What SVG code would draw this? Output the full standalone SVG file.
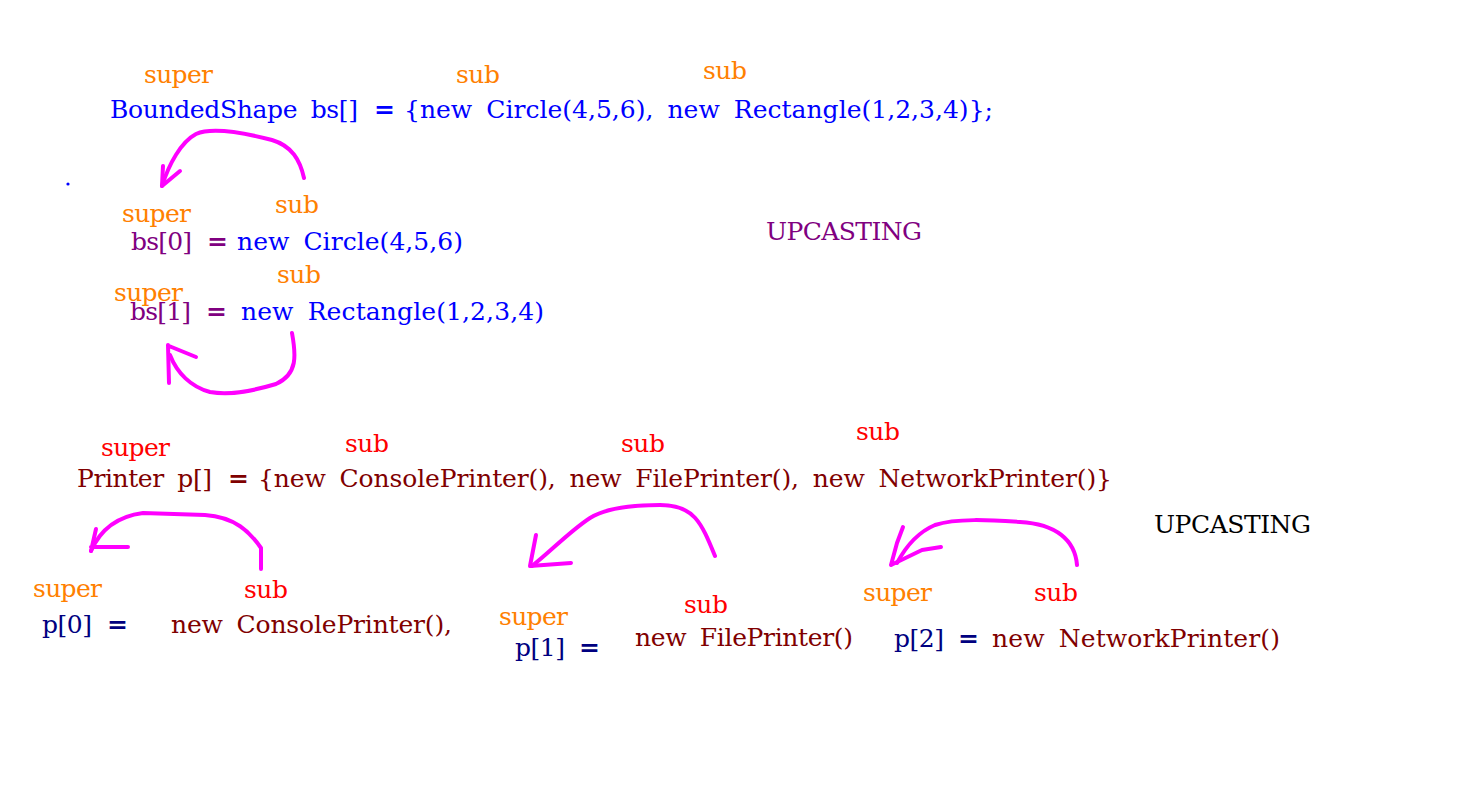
<svg xmlns="http://www.w3.org/2000/svg" width="1481" height="795" viewBox="0 0 1481 795">
<style>
text{font-family:"DejaVu Serif","Liberation Serif",serif;font-size:25px;word-spacing:6px}
.or{fill:#ff8000}
.rd{fill:#ff0000}
.bl{fill:#0000ff}
.pu{fill:#800080}
.dr{fill:#800000}
.nv{fill:#000080}
.bk{fill:#000000}
.eq{font-weight:bold}
.arr{fill:none;stroke:#ff00ff;stroke-width:4;stroke-linecap:round;stroke-linejoin:round}
</style>
<rect width="1481" height="795" fill="#ffffff"/>
<g id="shape-decl">
<text class="or" x="144" y="83" textLength="69">super</text>
<text class="or" x="456" y="83" textLength="44">sub</text>
<text class="or" x="703" y="79" textLength="44">sub</text>
<text class="bl" x="110" y="118" textLength="248">BoundedShape bs[]</text>
<text class="bl eq" x="374" y="118" textLength="14">=</text>
<text class="bl" x="404" y="118" textLength="589">{new Circle(4,5,6), new Rectangle(1,2,3,4)};</text>
<circle cx="68" cy="184" r="1.6" fill="#0000ff"/>
</g>
<g id="bs0">
<text class="or" x="122" y="222" textLength="69">super</text>
<text class="or" x="275" y="213" textLength="44">sub</text>
<text class="pu" x="131" y="250" textLength="61">bs[0]</text>
<text class="pu eq" x="207" y="250" textLength="14">=</text>
<text class="bl" x="237" y="250" textLength="226">new Circle(4,5,6)</text>
</g>
<g id="bs1">
<text class="or" x="277" y="283" textLength="44">sub</text>
<text class="or" x="114" y="301" textLength="69">super</text>
<text class="pu" x="130" y="320" textLength="61">bs[1]</text>
<text class="pu eq" x="206" y="320" textLength="14">=</text>
<text class="bl" x="241" y="320" textLength="303">new Rectangle(1,2,3,4)</text>
</g>
<g id="upcasting1">
<text class="pu" x="766" y="240" textLength="156">UPCASTING</text>
</g>
<g id="printer-decl">
<text class="rd" x="101" y="456" textLength="69">super</text>
<text class="rd" x="345" y="452" textLength="44">sub</text>
<text class="rd" x="621" y="452" textLength="44">sub</text>
<text class="rd" x="856" y="440" textLength="44">sub</text>
<text class="dr" x="77" y="487" textLength="135">Printer p[]</text>
<text class="dr eq" x="228" y="487" textLength="14">=</text>
<text class="dr" x="258" y="487" textLength="854">{new ConsolePrinter(), new FilePrinter(), new NetworkPrinter()}</text>
</g>
<g id="upcasting2">
<text class="bk" x="1154" y="533" textLength="157">UPCASTING</text>
</g>
<g id="p0">
<text class="or" x="33" y="597" textLength="69">super</text>
<text class="rd" x="244" y="598" textLength="44">sub</text>
<text class="nv" x="42" y="633" textLength="50">p[0]</text>
<text class="nv eq" x="107" y="633" textLength="14">=</text>
<text class="dr" x="171" y="633" textLength="281">new ConsolePrinter(),</text>
</g>
<g id="p1">
<text class="or" x="499" y="625" textLength="69">super</text>
<text class="rd" x="684" y="613" textLength="44">sub</text>
<text class="nv" x="515" y="656" textLength="50">p[1]</text>
<text class="nv eq" x="579" y="656" textLength="15">=</text>
<text class="dr" x="635" y="646" textLength="218">new FilePrinter()</text>
</g>
<g id="p2">
<text class="or" x="863" y="601" textLength="69">super</text>
<text class="rd" x="1034" y="601" textLength="44">sub</text>
<text class="nv" x="894" y="647" textLength="50">p[2]</text>
<text class="nv eq" x="958" y="647" textLength="15">=</text>
<text class="dr" x="992" y="647" textLength="288">new NetworkPrinter()</text>
</g>
<g id="connectors">
<path class="arr" d="M304,178 C300,160 292,146 272,140 C245,133 212,127 196,134 C181,142 169,164 162,186"/>
<path class="arr" d="M162,186 L163,166 M162,186 L180,171"/>
<path class="arr" d="M292,333 C296,355 298,374 276,384 C256,390 232,396 210,392 C191,387 177,373 170,355"/>
<path class="arr" d="M168,345 L169,383 M169,346 L196,357"/>
<path class="arr" d="M261,569 L261,548 C250,532 235,517 205,515 L143,513 C120,516 101,528 91,551"/>
<path class="arr" d="M91,551 L96,529 M91,547 L128,547"/>
<path class="arr" d="M715,556 C701,522 694,505 660,505 C630,505 606,508 590,518 C570,531 550,552 532,566"/>
<path class="arr" d="M530,566 L536,535 M530,566 L571,563"/>
<path class="arr" d="M1077,565 C1075,540 1056,524 1020,522 C990,520 956,518 935,525 C916,533 905,548 897,563"/>
<path class="arr" d="M891,565 L897,543 L903,527 M891,565 L922,550 M922,550 L941,547"/>
</g>
</svg>
